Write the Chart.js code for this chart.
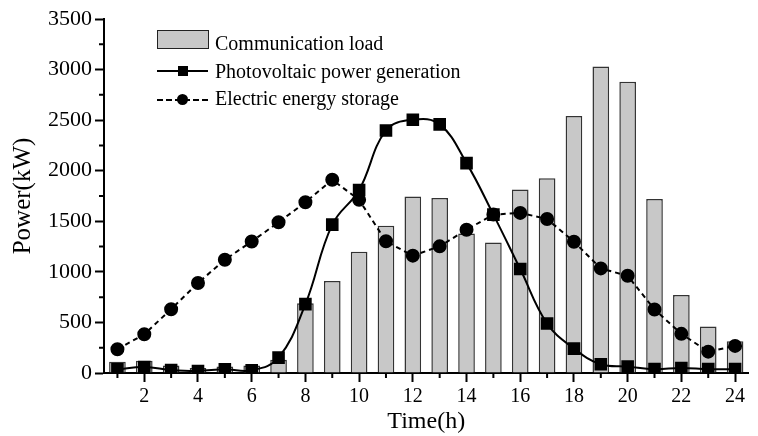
<!DOCTYPE html>
<html>
<head>
<meta charset="utf-8">
<script src="https://cdn.jsdelivr.net/npm/chart.js@4/dist/chart.umd.min.js"></script>
<style>
  html, body { margin: 0; padding: 0; background: #fff; }
  #wrap { position: relative; width: 758px; height: 436px; }
  #legend { position: absolute; left: 0; top: 0; font-family: "Liberation Serif", serif; font-size: 20px; color: #000; }
  .lab { position: absolute; left: 215px; line-height: 20px; white-space: nowrap; }
  .box { position: absolute; left: 157px; top: 30px; width: 50px; height: 17px; background: #c8c8c8; border: 1px solid #222; }
  .ln { position: absolute; left: 157px; width: 51px; height: 0; border-top: 2px solid #000; }
  .ln.dash { border-top: 2px dashed #000; }
  .sq { position: absolute; width: 10px; height: 10px; background: #000; }
  .dot { position: absolute; width: 11px; height: 11px; border-radius: 50%; background: #000; }
</style>
</head>
<body>
<div id="wrap">
  <canvas id="powerChart" width="758" height="436"></canvas>
  <div id="legend">
    <div class="box"></div>
    <div class="lab" style="top:33px">Communication load</div>
    <div class="ln" style="top:70px"></div>
    <div class="sq" style="left:178px;top:66px"></div>
    <div class="lab" style="top:61px">Photovoltaic power generation</div>
    <div class="ln dash" style="top:99px"></div>
    <div class="dot" style="left:177px;top:94px"></div>
    <div class="lab" style="top:88px">Electric energy storage</div>
  </div>
</div>
<script>
// hourly power data
const hours = ["1", "2", "3", "4", "5", "6", "7", "8", "9", "10", "11", "12",
  "13", "14", "15", "16", "17", "18", "19", "20", "21", "22", "23", "24"];
const commLoad = [110, 120, 75, 50, 65, 75, 130, 690, 910, 1200, 1455, 1745,
  1730, 1380, 1290, 1815, 1925, 2540, 3030, 2880, 1720, 770, 460, 315];
const pvPower = [37, 59, 30, 20, 37, 27, 152, 681, 1467, 1810, 2398, 2504,
  2458, 2075, 1566, 1028, 489, 241, 86, 63, 38, 50, 38, 38];
const storagePower = [235, 383, 631, 890, 1120, 1300, 1490, 1688, 1910, 1712, 1302, 1160,
  1252, 1417, 1566, 1583, 1523, 1298, 1034, 961, 628, 387, 211, 268];

const serif = "'Liberation Serif', 'Times New Roman', serif";

// short minor tick marks (odd hours, every 250 kW)
const minorTicks = {
  id: "minorTicks",
  afterDraw(chart) {
    const ctx = chart.ctx;
    const x = chart.scales.x;
    const y = chart.scales.y;
    ctx.save();
    ctx.strokeStyle = "#000";
    ctx.lineWidth = 2;
    ctx.beginPath();
    hours.forEach((h, i) => {
      if (Number(h) % 2 === 1) {
        const px = x.getPixelForTick(i);
        ctx.moveTo(px, x.top);
        ctx.lineTo(px, x.top + 5);
      }
    });
    for (let v = 250; v < 3500; v += 500) {
      const py = y.getPixelForValue(v);
      ctx.moveTo(y.right, py);
      ctx.lineTo(y.right - 5, py);
    }
    ctx.stroke();
    ctx.restore();
  },
};

new Chart(document.getElementById("powerChart"), {
  type: "bar",
  data: {
    labels: hours,
    datasets: [
      {
        type: "line",
        label: "Photovoltaic power generation",
        data: pvPower,
        borderColor: "#000",
        backgroundColor: "#000",
        borderWidth: 2,
        tension: 0.4,
        pointStyle: "rect",
        pointRadius: 7.5,
        order: 1,
      },
      {
        type: "line",
        label: "Electric energy storage",
        data: storagePower,
        borderColor: "#000",
        backgroundColor: "#000",
        borderWidth: 2,
        borderDash: [5, 4],
        tension: 0,
        pointStyle: "circle",
        pointRadius: 6,
        order: 0,
      },
      {
        label: "Communication load",
        data: commLoad,
        backgroundColor: "#c8c8c8",
        borderColor: "#333",
        borderWidth: 1.5,
        barPercentage: 0.62,
        categoryPercentage: 1,
        order: 2,
      },
    ],
  },
  options: {
    responsive: false,
    animation: false,
    devicePixelRatio: 1,
    layout: { padding: { top: 19, right: 0, left: 0, bottom: 0 } },
    plugins: {
      legend: { display: false },
      tooltip: { enabled: false },
    },
    scales: {
      x: {
        offset: true,
        grid: {
          offset: false,
          drawOnChartArea: false,
          tickLength: 9,
          tickWidth: 2,
          tickColor: (c) => (c.index % 2 === 1 ? "#000" : "rgba(0,0,0,0)"),
        },
        border: { color: "#000", width: 2 },
        ticks: {
          color: "#000",
          font: { family: serif, size: 20 },
          padding: 3,
          maxRotation: 0,
          autoSkip: false,
          callback: (v, i) => (Number(hours[i]) % 2 === 0 ? hours[i] : ""),
        },
        title: {
          display: true,
          text: "Time(h)",
          color: "#000",
          font: { family: serif, size: 24, lineHeight: 1.2 },
          padding: { top: 0, bottom: 0 },
        },
        afterFit: (s) => { s.height = 63; },
      },
      y: {
        min: 0,
        max: 3500,
        grid: {
          drawOnChartArea: false,
          tickLength: 9,
          tickWidth: 2,
          tickColor: "#000",
        },
        border: { color: "#000", width: 2 },
        ticks: {
          stepSize: 500,
          color: "#000",
          font: { family: serif, size: 22 },
          padding: 3,
          callback: (v) => String(v),
        },
        title: {
          display: true,
          text: "Power(kW)",
          color: "#000",
          font: { family: serif, size: 25, lineHeight: 1.2 },
          padding: { top: 8, bottom: 0 },
        },
        afterFit: (s) => { s.width = 104; },
      },
    },
  },
  plugins: [minorTicks],
});
</script>
</body>
</html>
